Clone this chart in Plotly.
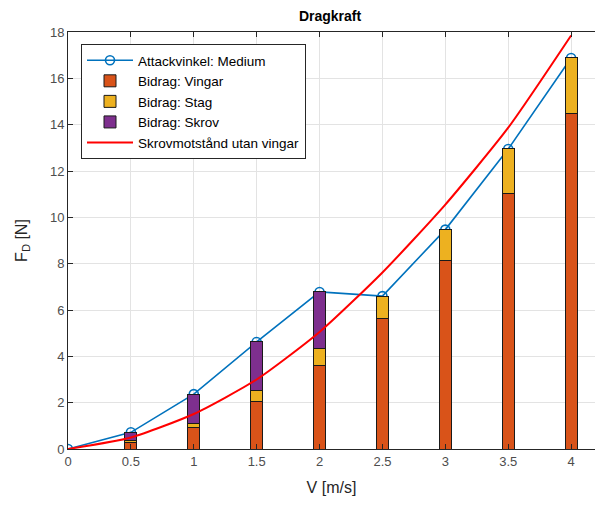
import plotly.graph_objects as go

# Speeds and drag contributions
v = [0.5, 1.0, 1.5, 2.0, 2.5, 3.0, 3.5, 4.0]
vingar = [0.26, 0.93, 2.04, 3.59, 5.65, 8.14, 11.05, 14.47]
stag = [0.12, 0.19, 0.47, 0.75, 0.95, 1.33, 1.90, 2.41]
skrov = [0.34, 1.25, 2.11, 2.44, 0.00, 0.00, 0.00, 0.00]

# Total drag, medium angle of attack (includes V = 0)
v_tot = [0.0] + v
total = [0.0] + [a + b + c for a, b, c in zip(vingar, stag, skrov)]

# Hull resistance without wings
v_hull = [0.0, 0.5, 1.0, 1.5, 2.0, 2.5, 3.0, 3.5, 4.0]
hull = [0.0, 0.50, 1.51, 3.00, 5.05, 7.62, 10.55, 13.87, 17.85]

x_ticks = [0, 0.5, 1, 1.5, 2, 2.5, 3, 3.5, 4]
x_tick_text = ["0", "0.5", "1", "1.5", "2", "2.5", "3", "3.5", "4"]
y_ticks = list(range(0, 19, 2))

BLUE = "#0072BD"
ORANGE = "#D95319"
YELLOW = "#EDB120"
PURPLE = "#7E2F8E"
RED = "#FF0000"
FONT = "Liberation Sans, Arial, sans-serif"
TXT = "#262626"

# plot-area geometry in pixels
W, H = 595, 508
L, R, T, B = 68, 0, 32, 59
PW, PH = W - L - R, H - T - B

fig = go.Figure()

# total line sits underneath the bars (base axes)
fig.add_trace(go.Scatter(
    x=v_tot, y=total, mode="lines+markers", name="Attackvinkel: Medium",
    line=dict(color=BLUE, width=1.6),
    marker=dict(symbol="circle-open", size=9, color=BLUE, line=dict(width=1.6)),
    legendrank=1, xaxis="x", yaxis="y",
))

bar_line = dict(color="#1a1a1a", width=1)
for name, vals, col, rank in [("Bidrag: Vingar", vingar, ORANGE, 2),
                              ("Bidrag: Stag", stag, YELLOW, 3),
                              ("Bidrag: Skrov", skrov, PURPLE, 4)]:
    fig.add_trace(go.Bar(
        x=v, y=vals, name=name, width=0.095,
        marker=dict(color=col, line=bar_line),
        legendrank=rank, xaxis="x2", yaxis="y2",
    ))

fig.add_trace(go.Scatter(
    x=v_hull, y=hull, mode="lines", name="Skrovmotstånd utan vingar",
    line=dict(color=RED, width=2, shape="spline", smoothing=0.6),
    legendrank=5, xaxis="x2", yaxis="y2",
))

x_range = [0, 4.19]
y_range = [0, 18]

axis_common = dict(
    showgrid=True, gridcolor="#e3e3e3", gridwidth=1,
    zeroline=False, ticks="inside", ticklen=5, tickcolor="#262626",
    tickfont=dict(family=FONT, size=13, color="#4d4d4d"),
)

fig.update_layout(
    width=W, height=H,
    margin=dict(l=L, r=R, t=T, b=B),
    paper_bgcolor="white", plot_bgcolor="white",
    barmode="stack",
    font=dict(family=FONT, color=TXT),
    title=dict(text="<b>Dragkraft</b>", x=330 / W, xanchor="center",
               y=1 - 16 / H, yanchor="middle",
               font=dict(family=FONT, size=14, color="#000")),
    xaxis=dict(range=x_range, tickvals=x_ticks, ticktext=x_tick_text,
               showline=True, linecolor="#262626", linewidth=1, mirror="ticks",
               title=dict(text="V [m/s]", font=dict(family=FONT, size=16, color=TXT),
                          standoff=14),
               **axis_common),
    yaxis=dict(range=y_range, tickvals=y_ticks,
               showline=True, linecolor="#262626", linewidth=1,
               title=dict(text="F<sub>D</sub> [N]", font=dict(family=FONT, size=16, color=TXT),
                          standoff=18),
               **axis_common),
    xaxis2=dict(overlaying="x", matches="x", range=x_range, visible=False),
    yaxis2=dict(overlaying="y", matches="y", range=y_range, visible=False),
    legend=dict(
        x=(81 - L) / PW, y=1 - (44 - T) / PH, xref="paper", yref="paper",
        xanchor="left", yanchor="top", traceorder="normal",
        bgcolor="white", bordercolor="#262626", borderwidth=1,
        font=dict(family=FONT, size=13.5, color="#000"),
        itemwidth=46, tracegroupgap=0,
    ),
    showlegend=True,
)

fig.write_html("out.html")
